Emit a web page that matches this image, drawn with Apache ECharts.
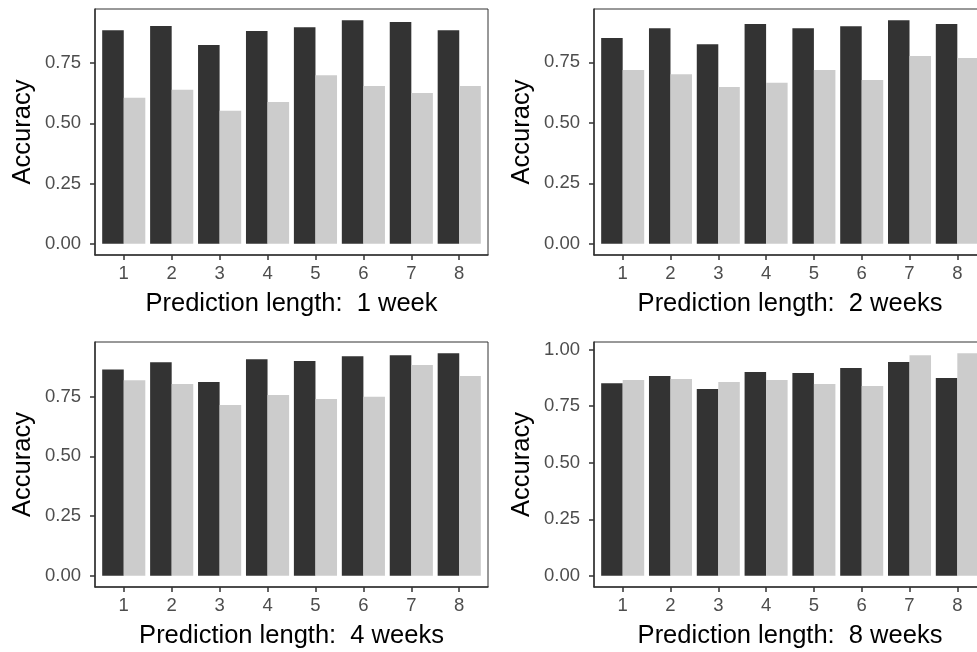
<!DOCTYPE html>
<html>
<head>
    <meta charset="UTF-8">
    <title>Accuracy by prediction length</title>
    <style type="text/css">
        html, body{
            margin:0;
            padding:0;
            background-color:white;
            overflow:hidden;
        }
        #main{
            width:1000px;
            height:652px;
        }
    </style>
</head>
<body>
<div id="main"></div>
<script src="https://cdn.jsdelivr.net/npm/echarts@6/dist/echarts.min.js"></script>
<script type="text/javascript">
    // categories on the x axis
    var categories = ['1', '2', '3', '4', '5', '6', '7', '8'];
    var yTicks = [0, 0.25, 0.5, 0.75, 1.0];

    // values: dark bars and light bars per panel
    var dark1w = [0.886, 0.904, 0.825, 0.883, 0.899, 0.928, 0.920, 0.886];
    var light1w = [0.606, 0.639, 0.552, 0.589, 0.700, 0.655, 0.626, 0.655];
    var dark2w = [0.850, 0.891, 0.825, 0.908, 0.891, 0.899, 0.924, 0.908];
    var light2w = [0.718, 0.701, 0.648, 0.665, 0.718, 0.677, 0.776, 0.768];
    var dark4w = [0.864, 0.894, 0.811, 0.906, 0.899, 0.919, 0.923, 0.932];
    var light4w = [0.819, 0.803, 0.715, 0.757, 0.740, 0.749, 0.882, 0.836];
    var dark8w = [0.851, 0.883, 0.826, 0.901, 0.896, 0.918, 0.945, 0.874];
    var light8w = [0.865, 0.870, 0.857, 0.865, 0.848, 0.839, 0.975, 0.984];

    var titles = ['Prediction length:  1 week', 'Prediction length:  2 weeks',
        'Prediction length:  4 weeks', 'Prediction length:  8 weeks'];

    var panels = [
        {dark: dark1w, light: light1w, box: [95, 9, 393, 246]},
        {dark: dark2w, light: light2w, box: [594, 9, 392, 246]},
        {dark: dark4w, light: light4w, box: [95, 342, 393, 245]},
        {dark: dark8w, light: light8w, box: [594, 342, 392, 245]}
    ];

    var FONT = 'Liberation Sans';
    var xPos = categories.map(function(c, i) { return i + 1; });

    var grids = [], xAxes = [], yAxes = [], series = [];
    panels.forEach(function(p, k) {
        var top = Math.max.apply(null, p.dark.concat(p.light));
        var ymin = -0.05 * top, ymax = 1.05 * top;
        var ticks = yTicks.filter(function(t) { return t <= ymax; });

        grids.push({
            left: p.box[0], top: p.box[1], width: p.box[2], height: p.box[3],
            show: true, borderColor: '#333333', borderWidth: 1, backgroundColor: 'transparent'
        });
        xAxes.push({
            type: 'value', gridIndex: k, min: 0.4, max: 8.6,
            name: titles[k], nameLocation: 'middle', nameGap: 36,
            nameTextStyle: {fontFamily: FONT, fontSize: 25.5, color: '#000'},
            axisLine: {show: true, onZero: false, lineStyle: {color: '#333333', width: 1.5}},
            axisTick: {show: true, length: 5, customValues: xPos, lineStyle: {color: '#333333', width: 1.5}},
            axisLabel: {
                customValues: xPos, margin: 9, fontFamily: FONT, fontSize: 18.5, color: '#4D4D4D',
                formatter: function(v) { return categories[Math.round(v) - 1] || ''; }
            },
            splitLine: {show: false}
        });
        yAxes.push({
            type: 'value', gridIndex: k, min: ymin, max: ymax,
            name: 'Accuracy', nameLocation: 'middle', nameGap: 59,
            nameTextStyle: {fontFamily: FONT, fontSize: 25.5, color: '#000'},
            axisLine: {show: true, onZero: false, lineStyle: {color: '#333333', width: 1.5}},
            axisTick: {show: true, length: 5, customValues: ticks, lineStyle: {color: '#333333', width: 1.5}},
            axisLabel: {
                customValues: ticks, margin: 14, fontFamily: FONT, fontSize: 18.5, color: '#4D4D4D',
                formatter: function(v) { return v.toFixed(2); }
            },
            splitLine: {show: false}
        });
        series.push({
            type: 'bar', xAxisIndex: k, yAxisIndex: k,
            barGap: '0%', barCategoryGap: '10%',
            itemStyle: {color: '#333333'},
            data: p.dark.map(function(v, i) { return [xPos[i], v]; })
        });
        series.push({
            type: 'bar', xAxisIndex: k, yAxisIndex: k,
            barGap: '0%', barCategoryGap: '10%',
            itemStyle: {color: '#CCCCCC'},
            data: p.light.map(function(v, i) { return [xPos[i], v]; })
        });
    });

    var myChart = echarts.init(document.getElementById('main'));
    myChart.setOption({
        animation: false,
        backgroundColor: '#ffffff',
        grid: grids,
        xAxis: xAxes,
        yAxis: yAxes,
        series: series
    });
</script>
</body>
</html>
